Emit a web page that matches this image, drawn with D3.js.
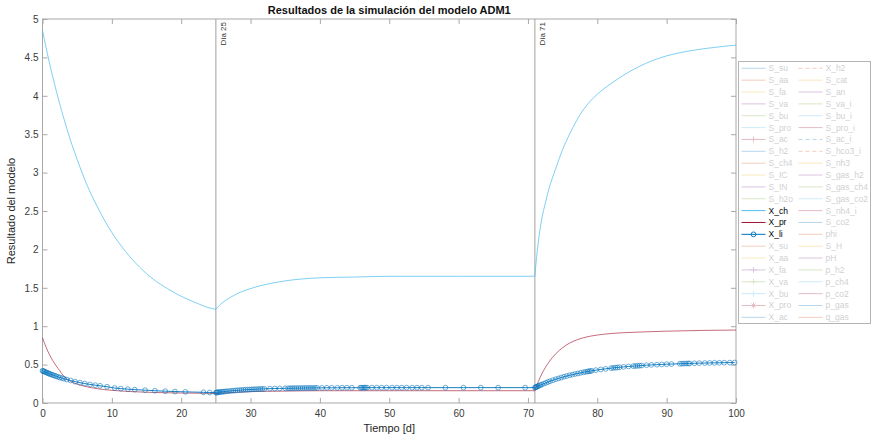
<!DOCTYPE html>
<html>
<head>
<meta charset="utf-8">
<script src="https://cdn.jsdelivr.net/npm/d3@7"></script>
<style>
  body { margin: 0; background: #fff; }
  text { font-family: "Liberation Sans", Arial, Helvetica, sans-serif; }
</style>
</head>
<body>
<div id="chartDiv"></div>
<script>
// Resultados ADM1 - only X_ch, X_pr and X_li are plotted, the rest are greyed out in the legend

var canvasWidth = 872;
var canvasHeight = 438;

// X_ch (carbohidratos)
var tCh = [0, 1, 2, 3, 4, 5, 6, 7, 8, 9, 10, 12, 14, 16, 18, 20, 22, 24, 25,
  25.5, 26, 27, 28, 30, 32, 35, 40, 45, 50, 60, 71,
  71.25, 71.5, 72, 72.5, 73, 74, 75, 76, 78, 80, 82, 84, 86, 88, 90, 93, 96, 100];
var xCh = [4.85, 4.43, 4.06, 3.73, 3.43, 3.17, 2.93, 2.72, 2.54, 2.37, 2.22, 1.97, 1.77, 1.61, 1.49, 1.39, 1.31, 1.24, 1.22,
  1.27, 1.31, 1.37, 1.42, 1.49, 1.54, 1.59, 1.63, 1.64, 1.65, 1.65, 1.65,
  1.90, 2.10, 2.40, 2.60, 2.78, 3.05, 3.30, 3.50, 3.82, 4.02, 4.16, 4.28, 4.38, 4.46, 4.52, 4.58, 4.62, 4.66];

// X_pr (proteinas)
var tPr = [0, 0.5, 1, 1.5, 2, 2.5, 3, 3.5, 4, 5, 6, 7, 8, 10, 12, 15, 20, 25,
  26, 28, 30, 35, 40, 71,
  71.5, 72, 72.5, 73, 74, 75, 76, 77, 78, 80, 82, 85, 90, 95, 100];
var xPr = [0.85, 0.73, 0.63, 0.55, 0.48, 0.42, 0.355, 0.315, 0.285, 0.245, 0.22, 0.20, 0.185, 0.165, 0.152, 0.14, 0.13, 0.125,
  0.13, 0.14, 0.148, 0.155, 0.16, 0.16,
  0.28, 0.38, 0.46, 0.53, 0.64, 0.72, 0.78, 0.82, 0.85, 0.885, 0.905, 0.92, 0.935, 0.945, 0.95];

// X_li (lipidos), one value per solver step
var tLi = [0, 0.1, 0.2, 0.3, 0.45, 0.6, 0.75, 0.9, 1.05, 1.2, 1.4, 1.6, 1.8, 2.0, 2.25, 2.5, 2.8, 3.1, 3.5,
  4.05, 4.7, 5.4, 6.1, 6.85, 7.6, 8.3, 9.3, 10.4, 11.3, 12.3, 13.3, 14.8, 16.2, 17.7, 19.1, 20.6, 23.2, 24.1,
  25, 25.1, 25.2, 25.35, 25.5, 25.7, 25.9, 26.1, 26.35, 26.6, 26.9, 27.2, 27.5, 27.8, 28.1, 28.4, 28.7, 29.0,
  29.3, 29.6, 29.9, 30.2, 30.5, 30.8, 31.1, 31.4, 31.7, 32.0, 32.8, 33.5, 34.2, 35.0, 35.4, 35.7, 36.0, 36.3,
  36.6, 36.9, 37.2, 37.5, 37.8, 38.1, 38.4, 38.7, 39.0, 39.3, 39.6, 40.3, 41.0, 41.7, 42.5, 43.2, 43.9, 44.6,
  45.8, 46.0, 46.2, 46.4, 46.6, 46.8, 47.5, 48.2, 48.9, 49.6, 50.4, 51.1, 51.8, 52.5, 53.3, 54.0, 54.7, 55.6,
  58.1, 60.7, 63.2, 65.7, 69.6,
  71, 71.1, 71.2, 71.3, 71.45, 71.6, 71.8, 72.0, 72.3, 72.6, 72.9, 73.2, 73.6, 74.0, 74.4, 74.8, 75.2, 75.6,
  76.0, 76.4, 76.8, 77.2, 77.6, 78.0, 78.3, 78.6, 78.8, 79.0, 79.2, 79.8, 80.5, 81.2, 82.0, 82.3, 82.6, 82.9,
  83.2, 83.8, 84.5, 85.2, 85.5, 85.8, 86.1, 86.4, 87.1, 87.8, 88.6, 89.3, 90.0, 90.7, 91.9, 92.2, 92.5, 92.8,
  93.1, 93.3, 94.0, 94.7, 95.5, 96.2, 96.9, 97.6, 98.3, 99.1, 99.8];
var xLi = [0.420, 0.416, 0.412, 0.408, 0.402, 0.396, 0.390, 0.385, 0.379, 0.373, 0.367, 0.360, 0.354, 0.347, 0.340, 0.332, 0.324, 0.316, 0.305,
  0.293, 0.278, 0.265, 0.253, 0.242, 0.232, 0.224, 0.212, 0.195, 0.187, 0.180, 0.174, 0.167, 0.160, 0.154, 0.149, 0.145, 0.139, 0.137,
  0.135, 0.136, 0.138, 0.140, 0.141, 0.144, 0.146, 0.148, 0.150, 0.153, 0.155, 0.158, 0.160, 0.163, 0.165, 0.167, 0.169, 0.171,
  0.173, 0.174, 0.176, 0.178, 0.179, 0.180, 0.181, 0.183, 0.184, 0.184, 0.187, 0.188, 0.190, 0.191, 0.192, 0.192, 0.193, 0.193,
  0.194, 0.194, 0.194, 0.195, 0.195, 0.196, 0.196, 0.196, 0.196, 0.197, 0.197, 0.197, 0.198, 0.198, 0.198, 0.199, 0.199, 0.199,
  0.199, 0.199, 0.199, 0.200, 0.200, 0.200, 0.200, 0.200, 0.200, 0.200, 0.200, 0.200, 0.200, 0.200, 0.200, 0.200, 0.200, 0.200,
  0.200, 0.200, 0.200, 0.200, 0.200,
  0.200, 0.204, 0.209, 0.213, 0.219, 0.225, 0.233, 0.241, 0.252, 0.263, 0.274, 0.284, 0.297, 0.309, 0.320, 0.331, 0.342, 0.351,
  0.361, 0.369, 0.378, 0.385, 0.393, 0.400, 0.405, 0.410, 0.413, 0.416, 0.419, 0.428, 0.437, 0.445, 0.454, 0.457, 0.460, 0.462,
  0.465, 0.470, 0.476, 0.480, 0.482, 0.484, 0.486, 0.488, 0.492, 0.496, 0.499, 0.502, 0.505, 0.507, 0.511, 0.512, 0.513, 0.514,
  0.515, 0.515, 0.517, 0.519, 0.520, 0.522, 0.523, 0.524, 0.525, 0.526, 0.527];

var eventDays = [25, 71];
var eventLabels = ["Día 25", "Día 71"];

var xTicks = [0, 10, 20, 30, 40, 50, 60, 70, 80, 90, 100];
var yTicks = [0, 0.5, 1, 1.5, 2, 2.5, 3, 3.5, 4, 4.5, 5];

var legendNames = ["S_su", "S_aa", "S_fa", "S_va", "S_bu", "S_pro", "S_ac", "S_h2", "S_ch4", "S_IC", "S_IN",
  "S_h2o", "X_ch", "X_pr", "X_li", "X_su", "X_aa", "X_fa", "X_va", "X_bu", "X_pro", "X_ac",
  "X_h2", "S_cat", "S_an", "S_va_i", "S_bu_i", "S_pro_i", "S_ac_i", "S_hco3_i", "S_nh3", "S_gas_h2", "S_gas_ch4",
  "S_gas_co2", "S_nh4_i", "S_co2", "phi", "S_H", "pH", "p_h2", "p_ch4", "p_co2", "p_gas", "q_gas"];
var shownNames = ["X_ch", "X_pr", "X_li"];

// matlab default colour order
var colorOrder = ["#0072BD", "#D95319", "#EDB120", "#7E2F8E", "#77AC30", "#4DBEEE", "#A2142F"];
var legendMarkers = {"S_ac": "+", "X_li": "o", "X_fa": "+", "X_va": "+", "X_bu": "+", "X_pro": "*"};
var legendDashed = ["X_h2", "S_ac_i", "S_hco3_i"];

var margin = {top: 19, right: 136, bottom: 35, left: 42.5};

var x = d3.scaleLinear().domain([0, 100]).range([margin.left, 736]);
var y = d3.scaleLinear().domain([0, 5]).range([403, margin.top]);

var svg = d3.select("#chartDiv")
    .append("svg")
    .attr("width", canvasWidth)
    .attr("height", canvasHeight);

var axisColor = "#a8a8a8";
var labelColor = "#3a3a3a";

// axes (box on, ticks inside)
function styleAxis(g) {
  g.select(".domain").remove();
  g.selectAll(".tick line").attr("stroke", axisColor);
  g.selectAll(".tick text").attr("fill", labelColor).style("font-size", "10px");
}

svg.append("g")
    .attr("transform", "translate(0,403)")
    .call(d3.axisBottom(x).tickValues(xTicks).tickSize(-5).tickPadding(7))
    .call(styleAxis);

svg.append("g")
    .attr("transform", "translate(0," + margin.top + ")")
    .call(d3.axisTop(x).tickValues(xTicks).tickSize(-5).tickFormat(""))
    .call(styleAxis);

svg.append("g")
    .attr("transform", "translate(" + margin.left + ",0)")
    .call(d3.axisLeft(y).tickValues(yTicks).tickSize(-5).tickPadding(4).tickFormat(d3.format("")))
    .call(styleAxis);

svg.append("g")
    .attr("transform", "translate(736,0)")
    .call(d3.axisRight(y).tickValues(yTicks).tickSize(-5).tickFormat(""))
    .call(styleAxis);

svg.append("rect")
    .attr("x", x(0))
    .attr("y", y(5))
    .attr("width", x(100) - x(0))
    .attr("height", y(0) - y(5))
    .attr("fill", "none")
    .attr("stroke", axisColor)
    .attr("stroke-width", 1);

// event lines
eventDays.forEach(function(d, i) {
  svg.append("line")
      .attr("x1", x(d)).attr("x2", x(d))
      .attr("y1", y(5)).attr("y2", y(0))
      .attr("stroke", "#a0a0a0")
      .attr("stroke-width", 1);
  svg.append("text")
      .attr("transform", "translate(" + (x(d) + 10) + "," + (y(5) + 3) + ") rotate(-90)")
      .attr("text-anchor", "end")
      .style("font-size", "8px")
      .attr("fill", "#333")
      .text(eventLabels[i]);
});

// curves, split at the event days so the kinks stay sharp
var line = d3.line()
    .x(function(d) { return x(d.t); })
    .y(function(d) { return y(d.v); })
    .curve(d3.curveMonotoneX);

function toPoints(ts, vs) {
  return ts.map(function(t, i) { return {t: t, v: vs[i]}; });
}

function drawSeries(points, color, width, opacity) {
  var cuts = [0].concat(eventDays).concat([100]);
  for (var k = 0; k < cuts.length - 1; k++) {
    var seg = points.filter(function(p) { return p.t >= cuts[k] && p.t <= cuts[k + 1]; });
    svg.append("path")
        .datum(seg)
        .attr("d", line)
        .attr("fill", "none")
        .attr("stroke", color)
        .attr("stroke-opacity", opacity)
        .attr("stroke-width", width);
  }
}

var chPoints = toPoints(tCh, xCh);
var prPoints = toPoints(tPr, xPr);
var liPoints = toPoints(tLi, xLi);

drawSeries(chPoints, colorOrder[5], 0.9, 0.8);
drawSeries(prPoints, colorOrder[6], 0.9, 0.7);
drawSeries(liPoints, colorOrder[0], 1, 0.9);

svg.append("g")
    .selectAll("circle")
    .data(liPoints)
    .enter()
    .append("circle")
    .attr("cx", function(d) { return x(d.t); })
    .attr("cy", function(d) { return y(d.v); })
    .attr("r", 2.4)
    .attr("fill", "none")
    .attr("stroke", colorOrder[0])
    .attr("stroke-opacity", 0.7)
    .attr("stroke-width", 0.8);

// title and axis labels
svg.append("text")
    .attr("x", (x(0) + x(100)) / 2)
    .attr("y", 14)
    .attr("text-anchor", "middle")
    .style("font-size", "11px")
    .style("font-weight", "bold")
    .attr("fill", "#111")
    .text("Resultados de la simulación del modelo ADM1");

svg.append("text")
    .attr("x", (x(0) + x(100)) / 2)
    .attr("y", 432)
    .attr("text-anchor", "middle")
    .style("font-size", "11px")
    .attr("fill", "#262626")
    .text("Tiempo [d]");

svg.append("text")
    .attr("transform", "translate(15," + ((y(0) + y(5)) / 2) + ") rotate(-90)")
    .attr("text-anchor", "middle")
    .style("font-size", "11px")
    .attr("fill", "#262626")
    .text("Resultado del modelo");

// legend, two columns
var legendTop = 61;
var rowHeight = 11.86;
var rowsPerCol = 22;
var colX = [741.5, 798.5];

var legend = svg.append("g").attr("class", "legend");

legend.append("rect")
    .attr("x", 738.5)
    .attr("y", legendTop + 0.5)
    .attr("width", 132)
    .attr("height", 262)
    .attr("fill", "#fff")
    .attr("stroke", "#b4b4b4")
    .attr("stroke-width", 1);

var items = legend.selectAll("g.item")
    .data(legendNames)
    .enter()
    .append("g")
    .attr("class", "item")
    .attr("transform", function(d, i) {
      var col = Math.floor(i / rowsPerCol);
      var row = i % rowsPerCol;
      return "translate(" + colX[col] + "," + (legendTop + 7.3 + row * rowHeight) + ")";
    })
    .style("opacity", function(d) { return shownNames.indexOf(d) >= 0 ? 1 : 0.28; });

items.append("line")
    .attr("x1", 0).attr("x2", 24)
    .attr("y1", 0).attr("y2", 0)
    .attr("stroke", function(d, i) { return colorOrder[i % 7]; })
    .attr("stroke-width", 1)
    .attr("stroke-dasharray", function(d) { return legendDashed.indexOf(d) >= 0 ? "4,3" : null; });

items.each(function(d, i) {
  var m = legendMarkers[d];
  if (!m) return;
  var g = d3.select(this);
  var c = colorOrder[i % 7];
  if (m === "o") {
    g.append("circle").attr("cx", 12).attr("cy", 0).attr("r", 2.4)
        .attr("fill", "none").attr("stroke", c).attr("stroke-width", 0.9);
  } else {
    g.append("path")
        .attr("d", m === "*" ? "M9,0H15M12,-3V3M10,-2L14,2M10,2L14,-2" : "M9,0H15M12,-3V3")
        .attr("stroke", c).attr("stroke-width", 0.9);
  }
});

items.append("text")
    .attr("x", 27)
    .attr("y", 0)
    .attr("dy", "0.35em")
    .style("font-size", "8.5px")
    .attr("fill", function(d) { return shownNames.indexOf(d) >= 0 ? "#000" : "#555"; })
    .text(function(d) { return d; });
</script>
</body>
</html>
